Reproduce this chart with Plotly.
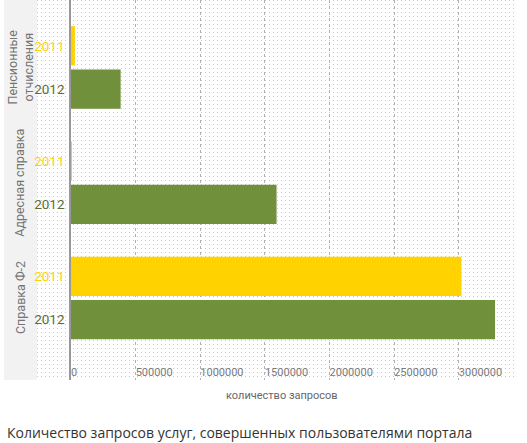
import base64, struct, zlib
import numpy as np
import plotly.graph_objects as go

# ---- data ----
categories = ["Справка Ф-2", "Адресная справка", "Пенсионные<br>отчисления"]
years = ["2011", "2012"]
values_2011 = [3020000, 3000, 30000]
values_2012 = [3280000, 1590000, 384000]
x_tickvals = [0, 500000, 1000000, 1500000, 2000000, 2500000, 3000000]
x_title = "количество запросов"
caption = "Количество запросов услуг, совершенных пользователями портала"

# ---- style ----
W, H = 527, 443
ML, MR, MT, MB = 71, 10, 0, 63
PW, PH = W - ML - MR, H - MT - MB
NARROW = "Roboto, sans-serif"
YELLOW = "#ffd200"
GREEN = "#70903b"
GREEN_TXT = "#5d6d34"
OFF = 0.188
BW = 0.34


def dot_png(w, h, step, rgba):
    img = np.zeros((h, w, 4), dtype=np.uint8)
    img[::step, ::step] = rgba
    raw = b"".join(b"\x00" + img[r].tobytes() for r in range(h))

    def chunk(t, d):
        c = struct.pack(">I", len(d)) + t + d
        return c + struct.pack(">I", zlib.crc32(t + d) & 0xFFFFFFFF)

    png = b"\x89PNG\r\n\x1a\n"
    png += chunk(b"IHDR", struct.pack(">IIBBBBB", w, h, 8, 6, 0, 0, 0))
    png += chunk(b"IDAT", zlib.compress(raw, 9))
    png += chunk(b"IEND", b"")
    return "data:image/png;base64," + base64.b64encode(png).decode()


idx = list(range(len(categories)))
y2011 = [i + OFF for i in idx]
y2012 = [i - OFF for i in idx]

fig = go.Figure()
fig.add_trace(go.Bar(y=y2012, x=values_2012, orientation="h", width=BW,
                     marker=dict(color=GREEN, line=dict(width=0)), name="2012",
                     hoverinfo="x"))
fig.add_trace(go.Bar(y=y2011, x=values_2011, orientation="h", width=BW,
                     marker=dict(color=YELLOW, line=dict(width=0)), name="2011",
                     hoverinfo="x"))

tickvals = []
ticktext = []
for i in idx:
    tickvals += [i + OFF, i - OFF]
    ticktext += [f'<span style="color:{YELLOW}">{years[0]}</span>',
                 f'<span style="color:{GREEN_TXT}">{years[1]}</span>']

# decorative backgrounds (paper coords)
band_x0 = (4 - ML) / PW
band_x1 = (37 - ML) / PW
dots_x0 = (37 - ML) / PW

fig.update_layout(
    width=W, height=H,
    margin=dict(l=ML, r=MR, t=MT, b=MB),
    paper_bgcolor="white",
    plot_bgcolor="rgba(0,0,0,0)",
    showlegend=False,
    barmode="overlay",
    xaxis=dict(
        range=[0, 3450000],
        tickvals=x_tickvals,
        ticktext=[str(v) for v in x_tickvals],
        ticklabelposition="inside right",
        ticklabelstandoff=-4,
        tickfont=dict(family=NARROW, size=11, color="#7a7a7a"),
        showgrid=True, gridcolor="#b0b0b0", gridwidth=1, griddash="dot",
        zeroline=False, showline=False, ticks="",
        fixedrange=True,
    ),
    yaxis=dict(
        range=[-0.711, 2.585],
        tickvals=tickvals, ticktext=ticktext,
        tickfont=dict(family=NARROW, size=13.5),
        showgrid=False, zeroline=False,
        showline=True, linecolor="#999999", linewidth=1.5,
        ticks="", ticklabelstandoff=2,
        fixedrange=True,
    ),
    images=[dict(
        source=dot_png(517 - 37, 380, 4, (200, 200, 200, 255)),
        xref="paper", yref="paper",
        x=dots_x0, y=1, sizex=1 - dots_x0, sizey=1,
        xanchor="left", yanchor="top", sizing="stretch", layer="below",
    )],
    shapes=[dict(
        type="rect", xref="paper", yref="paper",
        x0=band_x0, x1=band_x1, y0=0, y1=1,
        fillcolor="#f2f2f2", line=dict(width=0), layer="below",
    )],
)

ann = []
for i, c in enumerate(categories):
    ann.append(dict(
        text=c, xref="paper", yref="y", x=(20 - ML) / PW, y=i,
        xanchor="center", yanchor="middle", textangle=-90, showarrow=False,
        font=dict(family=NARROW, size=12.5, color="#747474"),
    ))
ann.append(dict(
    text=x_title, xref="paper", yref="paper",
    x=(282 - ML) / PW, y=-(395 - 380) / PH, xanchor="center", yanchor="middle",
    showarrow=False, font=dict(family=NARROW, size=11, color="#666666"),
))
ann.append(dict(
    text=caption, xref="paper", yref="paper",
    x=(5 - ML) / PW, y=-(433 - 380) / PH, xanchor="left", yanchor="middle",
    showarrow=False, font=dict(family="Open Sans, sans-serif", size=14, color="#333333"),
))
fig.update_layout(annotations=ann)

fig.write_html("out.html", config={"displayModeBar": False},
               post_script="document.body.style.margin='0';")
